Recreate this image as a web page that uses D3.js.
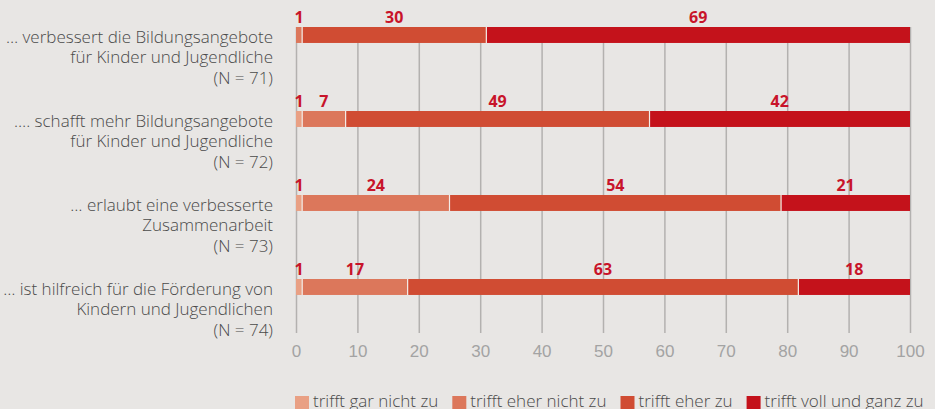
<!DOCTYPE html>
<html>
<head>
<meta charset="utf-8">
<script src="https://cdn.jsdelivr.net/npm/d3@7"></script>
<style>
  body { margin: 0; background: #e8e6e4; }
  svg { display: block; font-family: "Open Sans", sans-serif; }
</style>
</head>
<body>
<div class="chart"></div>
<script>
// categories (label lines)
var categories = [
  ['… verbessert die Bildungsangebote', 'für Kinder und Jugendliche', '(N = 71)'],
  ['…. schafft mehr Bildungsangebote', 'für Kinder und Jugendliche', '(N = 72)'],
  ['… erlaubt eine verbesserte', 'Zusammenarbeit', '(N = 73)'],
  ['… ist hilfreich für die Förderung von', 'Kindern und Jugendlichen', '(N = 74)']
];
var seriesNames = ['trifft gar nicht zu', 'trifft eher nicht zu', 'trifft eher zu', 'trifft voll und ganz zu'];
var garNicht = [0, 1, 1, 1];
var eherNicht = [1, 7, 24, 17];
var eherZu = [30, 49, 54, 63];
var vollGanz = [69, 42, 21, 18];
var ticks = [0, 10, 20, 30, 40, 50, 60, 70, 80, 90, 100];
var colors = ['#e9a084', '#dc775b', '#d04c33', '#c4121b'];

var width = 935, height = 409;
var margin = { top: 27, left: 296, right: 25 };

var svg = d3.select('.chart')
  .append('svg')
  .attr('width', width)
  .attr('height', height);

var rows = categories.map(function (c, i) {
  return { idx: i, lines: c, 0: garNicht[i], 1: eherNicht[i], 2: eherZu[i], 3: vollGanz[i] };
});

// bars are shown as shares of 100 (some rows sum to 99)
var stack = d3.stack()
  .keys([0, 1, 2, 3])
  .offset(d3.stackOffsetExpand);
var layers = stack(rows);

var xScale = d3.scaleLinear()
  .domain([0, 100])
  .range([margin.left, width - margin.right]);

var yScale = d3.scaleBand()
  .domain(rows.map(d => d.idx))
  .range([margin.top, margin.top + 84 * 3.19])
  .paddingInner(0.81)
  .paddingOuter(0);

// vertical gridlines
var gridBottom = 333;
var xAxis = d3.axisBottom(xScale)
  .tickValues(ticks)
  .tickSize(-(gridBottom - margin.top))
  .tickPadding(12);
var axisG = svg.append('g')
  .attr('transform', `translate(0, ${gridBottom})`)
  .call(xAxis);
axisG.select('.domain').remove();
axisG.selectAll('line')
  .style('stroke', '#b3b1af')
  .style('stroke-width', 1.5);
axisG.selectAll('text')
  .style('font-size', '17px')
  .style('font-weight', 300)
  .style('fill', '#a3a3a3');

// bars
var layerG = svg.selectAll('.layer')
  .data(layers)
  .enter()
  .append('g')
  .attr('class', 'layer')
  .style('fill', (d, i) => colors[i]);

layerG.selectAll('rect')
  .data(d => d)
  .enter()
  .append('rect')
  .attr('x', d => xScale(d[0] * 100))
  .attr('y', d => yScale(d.data.idx))
  .attr('width', d => xScale(d[1] * 100) - xScale(d[0] * 100))
  .attr('height', yScale.bandwidth());

// segment separators
layers.forEach(function (layer, k) {
  if (k === 0) return;
  svg.selectAll('.sep' + k)
    .data(layer.filter(d => d[1] > d[0] && d[0] > 0))
    .enter()
    .append('line')
    .attr('x1', d => xScale(d[0] * 100))
    .attr('x2', d => xScale(d[0] * 100))
    .attr('y1', d => yScale(d.data.idx))
    .attr('y2', d => yScale(d.data.idx) + yScale.bandwidth())
    .style('stroke', '#f3ece8')
    .style('stroke-width', 1.2);
});

// value labels
layers.forEach(function (layer, k) {
  svg.selectAll('.val' + k)
    .data(layer.filter(d => d.data[k] > 0))
    .enter()
    .append('text')
    .attr('x', d => (xScale(d[0] * 100) + xScale(d[1] * 100)) / 2)
    .attr('y', d => yScale(d.data.idx) - 4)
    .style('text-anchor', 'middle')
    .style('font-size', '16px')
    .style('font-weight', 700)
    .style('fill', '#c8142a')
    .text(d => d.data[k]);
});

// category labels
var catG = svg.selectAll('.cat')
  .data(rows)
  .enter()
  .append('text')
  .attr('class', 'cat')
  .attr('x', 273)
  .attr('y', d => yScale(d.idx) + yScale.bandwidth())
  .style('text-anchor', 'end')
  .style('font-size', '17px')
  .style('font-weight', 300)
  .style('fill', '#4a4a4a');
catG.selectAll('tspan')
  .data(d => d.lines)
  .enter()
  .append('tspan')
  .attr('x', 273)
  .attr('dy', (d, i) => i === 0 ? 0 : 20.5)
  .text(d => d);

// legend
var legend = svg.append('g').attr('transform', 'translate(295, 396)');
var lx = 0;
seriesNames.forEach(function (name, i) {
  var item = legend.append('g').attr('transform', `translate(${lx}, 0)`);
  item.append('rect')
    .attr('width', 14)
    .attr('height', 14)
    .style('fill', colors[i]);
  var t = item.append('text')
    .attr('x', 18)
    .attr('y', 10.5)
    .style('font-size', '17px')
    .style('font-weight', 300)
    .style('fill', '#4a4a4a')
    .text(name);
  lx += 18 + t.node().getComputedTextLength() + 14;
});
</script>
</body>
</html>
